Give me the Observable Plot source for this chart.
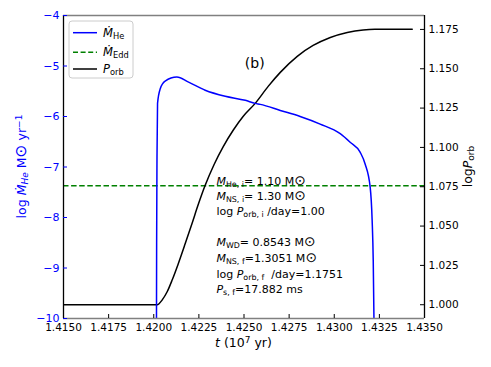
<!DOCTYPE html>
<html>
<head>
<meta charset="utf-8">
<script src="https://cdn.jsdelivr.net/npm/d3@7"></script>
<script src="https://cdn.jsdelivr.net/npm/@observablehq/plot@0.6"></script>
<style>
  html, body { margin: 0; padding: 0; background: white; }
  #chart { width: 491px; height: 367px; }
</style>
</head>
<body>
<div id="chart"></div>
<script>
// ---- data ----
const tHe = [1.42015, 1.42016, 1.42018, 1.42021, 1.42036, 1.42063, 1.42128, 1.42193, 1.42285, 1.42396, 1.42507, 1.42562, 1.42590, 1.42701, 1.42811, 1.42922, 1.43033, 1.43088, 1.43144, 1.43171, 1.43199, 1.43210, 1.43216, 1.43221];
const logMdotHe = [-10.3, -8.5, -6.8, -5.74, -5.45, -5.30, -5.22, -5.32, -5.48, -5.60, -5.68, -5.74, -5.76, -5.88, -6.00, -6.15, -6.34, -6.51, -6.71, -6.94, -7.40, -8.06, -8.85, -10.3];
const tP = [1.4150, 1.42019, 1.42047, 1.42075, 1.42102, 1.42135, 1.42174, 1.42213, 1.42246, 1.42285, 1.42335, 1.42385, 1.42440, 1.42496, 1.42562, 1.42634, 1.42701, 1.42795, 1.42883, 1.42978, 1.43072, 1.43160, 1.43225, 1.43432];
const logPorb = [1.0000, 1.0000, 1.0031, 1.0084, 1.0157, 1.0258, 1.0387, 1.0520, 1.0635, 1.0759, 1.0893, 1.1005, 1.1109, 1.1198, 1.1280, 1.1388, 1.1477, 1.1579, 1.1648, 1.1699, 1.1731, 1.1747, 1.1751, 1.1751];
const logMdotEdd = -7.37;
const xTicks = [1.4150, 1.4175, 1.4200, 1.4225, 1.4250, 1.4275, 1.4300, 1.4325, 1.4350];
const yLeftTicks = [-10, -9, -8, -7, -6, -5, -4];
const yRightTicks = [1.000, 1.025, 1.050, 1.075, 1.100, 1.125, 1.150, 1.175];
const xDomain = [1.415, 1.435];
const yDomain = [-10, -4];
const pDomain = [0.991245, 1.183855];

// map right-axis values onto the left y scale
const yOfP = p => yDomain[0] + (p - pDomain[0]) / (pDomain[1] - pDomain[0]) * (yDomain[1] - yDomain[0]);
const pOfY = y => pDomain[0] + (y - yDomain[0]) / (yDomain[1] - yDomain[0]) * (pDomain[1] - pDomain[0]);

const heData = tHe.map((t, i) => ({t, v: logMdotHe[i]}));
const pData = tP.map((t, i) => ({t, v: yOfP(logPorb[i])}));

const W = 491, H = 367, mL = 63, mR = 67, mT = 15, mB = 49;
const innerW = W - mL - mR, innerH = H - mT - mB;
const BLUE = "#0000ff";

const chart = Plot.plot({
  width: W, height: H,
  marginLeft: mL, marginRight: mR, marginTop: mT, marginBottom: mB,
  x: {domain: xDomain},
  y: {domain: yDomain},
  style: {fontFamily: "DejaVu Sans", fontSize: "10.5px", background: "white", color: "black"},
  marks: [
    Plot.ruleY([logMdotEdd], {stroke: "#008000", strokeWidth: 1.5, strokeDasharray: "5.5,2.6"}),
    Plot.line(pData, {x: "t", y: "v", stroke: "black", strokeWidth: 1.5, curve: "monotone-x", clip: true}),
    Plot.line(heData, {x: "t", y: "v", stroke: BLUE, strokeWidth: 1.5, curve: "monotone-x", clip: true}),
    // spines
    Plot.ruleY([yDomain[1]], {stroke: "#808080", strokeWidth: 1.3}),
    Plot.ruleY([yDomain[0]], {stroke: "#808080", strokeWidth: 1.3}),
    Plot.ruleX([xDomain[0]], {stroke: "black", strokeWidth: 1.3}),
    Plot.ruleX([xDomain[1]], {stroke: "black", strokeWidth: 1.3}),
    // inward ticks
    Plot.tickY(yLeftTicks, {y: d => d, stroke: BLUE, strokeWidth: 1, insetRight: innerW - 4}),
    Plot.tickY(yRightTicks, {y: d => yOfP(d), stroke: "black", strokeWidth: 1, insetLeft: innerW - 4}),
    Plot.tickX(xTicks, {x: d => d, stroke: "black", strokeWidth: 1, insetTop: innerH - 4}),
    // axes labels
    Plot.axisY({anchor: "left", ticks: yLeftTicks, tickSize: 0, tickPadding: 4, color: BLUE, label: null,
                fontSize: "11px", tickFormat: d => String(d).replace("-", "\u2212")}),
    Plot.axisY({anchor: "right", ticks: yRightTicks.map(yOfP), tickSize: 0, tickPadding: 4, label: null,
                tickFormat: d => pOfY(d).toFixed(3)}),
    Plot.axisX({ticks: xTicks, tickSize: 0, tickPadding: 5, label: null, tickFormat: d => d.toFixed(4)})
  ]
});

document.getElementById("chart").appendChild(chart);

const sx = chart.scale("x"), sy = chart.scale("y");
const svg = d3.select(chart);

function rich(parent, x, y, parts, attrs = {}) {
  const t = parent.append("text").attr("x", x).attr("y", y).attr("text-anchor", "start");
  for (const k in attrs) t.attr(k, attrs[k]);
  for (const p of parts) {
    const s = t.append("tspan").text(p.t);
    if (p.i) s.attr("font-style", "italic");
    if (p.sub) s.attr("baseline-shift", "-25%").attr("font-size", "72%");
    if (p.sup) s.attr("baseline-shift", "40%").attr("font-size", "72%");
    if (p.big) s.attr("font-size", "125%");
  }
  return t;
}

// axis titles
rich(svg, 0, 0, [
  {t: "log "}, {t: "Ṁ", i: true}, {t: "He", i: true, sub: true}, {t: " M"}, {t: "⊙", big: true}, {t: " yr"}, {t: "−1", sup: true}
], {transform: `translate(26,${mT + innerH / 2}) rotate(-90)`, "text-anchor": "middle", fill: BLUE, "font-size": "12.5px"});

rich(svg, 0, 0, [
  {t: "log"}, {t: "P", i: true}, {t: "orb", sub: true}
], {transform: `translate(472,${mT + innerH / 2}) rotate(-90)`, "text-anchor": "middle", fill: "black", "font-size": "12.5px"});

rich(svg, mL + innerW / 2, 347, [
  {t: "t", i: true}, {t: " (10"}, {t: "7", sup: true}, {t: " yr)"}
], {"text-anchor": "middle", fill: "black", "font-size": "12.5px"});

// panel label
svg.append("text").attr("x", sx.apply(1.42562)).attr("y", sy.apply(-4.95) + 5)
  .attr("text-anchor", "middle").attr("font-size", "14px").text("(b)");

// annotation block
const ax = sx.apply(1.4235), ay = sy.apply(-7.281) + 4;
const annLines = [
  [{t: "M", i: true}, {t: "He, i", sub: true}, {t: "= 1.10 M"}, {t: "⊙", big: true}],
  [{t: "M", i: true}, {t: "NS, i", sub: true}, {t: "= 1.30 M"}, {t: "⊙", big: true}],
  [{t: "log "}, {t: "P", i: true}, {t: "orb, i", sub: true}, {t: " /day=1.00"}],
  null,
  [{t: "M", i: true}, {t: "WD", sub: true}, {t: "= 0.8543 M"}, {t: "⊙", big: true}],
  [{t: "M", i: true}, {t: "NS, f", sub: true}, {t: "=1.3051 M"}, {t: "⊙", big: true}],
  [{t: "log "}, {t: "P", i: true}, {t: "orb, f", sub: true}, {t: "  /day=1.1751"}],
  [{t: "P", i: true}, {t: "s, f", sub: true}, {t: "=17.882 ms"}]
];
const annOffsets = [0, 15.2, 30.8, 0, 61, 77.5, 93.5, 108.6];
annLines.forEach((parts, i) => {
  if (!parts) return;
  rich(svg, ax, ay + annOffsets[i], parts, {"font-size": "11px", fill: "black", "xml:space": "preserve"});
});

// legend
const lg = svg.append("g").attr("transform", `translate(${mL + 6},${mT + 6})`);
lg.append("rect").attr("width", 64).attr("height", 57).attr("rx", 3)
  .attr("fill", "white").attr("fill-opacity", 0.8).attr("stroke", "#cccccc").attr("stroke-width", 1);
const legendItems = [
  {parts: [{t: "Ṁ", i: true}, {t: "He", sub: true}], stroke: BLUE, dash: null},
  {parts: [{t: "Ṁ", i: true}, {t: "Edd", sub: true}], stroke: "#008000", dash: "5,2.6"},
  {parts: [{t: "P", i: true}, {t: "orb", sub: true}], stroke: "black", dash: null}
];
const legendY = [11.7, 31.3, 48];
legendItems.forEach((it, i) => {
  const y = legendY[i];
  const l = lg.append("line").attr("x1", 4).attr("x2", 28).attr("y1", y).attr("y2", y)
    .attr("stroke", it.stroke).attr("stroke-width", 1.5);
  if (it.dash) l.attr("stroke-dasharray", it.dash);
  rich(lg, 34, y + 4, it.parts, {"font-size": "11.5px", fill: "black"});
});
</script>
</body>
</html>
